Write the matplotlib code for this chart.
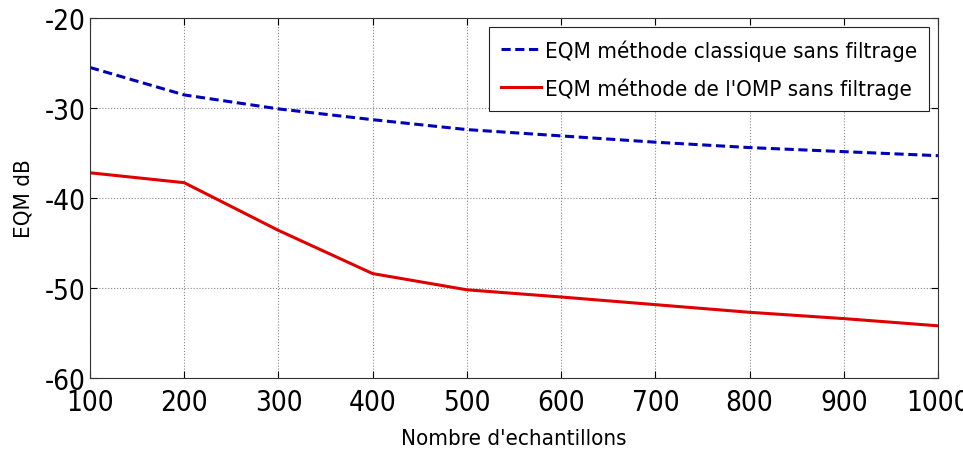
import matplotlib
matplotlib.use("Agg")
import matplotlib.pyplot as plt
from matplotlib import font_manager

n_samples = [100, 200, 300, 400, 500, 600, 700, 800, 900, 1000]
eqm_classique = [-25.5, -28.55, -30.1, -31.3, -32.4, -33.1, -33.8, -34.4, -34.85, -35.3]
eqm_omp = [-37.2, -38.3, -43.6, -48.4, -50.2, -51.0, -51.85, -52.7, -53.4, -54.2]
x_ticks = [100, 200, 300, 400, 500, 600, 700, 800, 900, 1000]
y_ticks = [-60, -50, -40, -30, -20]

names = {f.name for f in font_manager.fontManager.ttflist}
if "Liberation Sans Narrow" in names:
    plt.rcParams['font.family'] = ['Liberation Sans Narrow', 'DejaVu Sans']
else:
    plt.rcParams['font.family'] = ['DejaVu Sans']
    plt.rcParams['font.stretch'] = 'condensed'
plt.rcParams['axes.unicode_minus'] = False

fig = plt.figure(figsize=(9.63, 4.52), dpi=100)
ax = fig.add_axes([0.0935, 0.1615, 0.8805, 0.7965])

ax.plot(n_samples, eqm_classique, '--', color='#0000b8', lw=2.2,
        dashes=(3, 1.5), label="EQM méthode classique sans filtrage")
ax.plot(n_samples, eqm_omp, '-', color='#e00000', lw=2.2,
        label="EQM méthode de l'OMP sans filtrage")

ax.set_xlim(100, 1000)
ax.set_ylim(-60, -20)
ax.set_xticks(x_ticks)
ax.set_yticks(y_ticks)
ax.tick_params(axis='x', pad=7)
ax.tick_params(axis='y', pad=3)
ax.tick_params(direction='in', top=True, right=True, labelsize=20, length=5,
               width=0.8)
ax.grid(True, linestyle=':', color='#888888', lw=0.8)
for s in ax.spines.values():
    s.set_color('#333333')
    s.set_linewidth(0.8)

ax.set_xlabel("Nombre d'echantillons", fontsize=16, labelpad=9)
ax.set_ylabel("EQM dB", fontsize=16, labelpad=8)

leg = ax.legend(loc='upper right', fontsize=16, handlelength=1.8,
                handletextpad=0.15, borderpad=0.55, labelspacing=0.75,
                fancybox=False, framealpha=1, borderaxespad=0.4)
leg.get_frame().set_edgecolor('#222222')
leg.get_frame().set_linewidth(0.8)

fig.savefig("out.png", dpi=100)
